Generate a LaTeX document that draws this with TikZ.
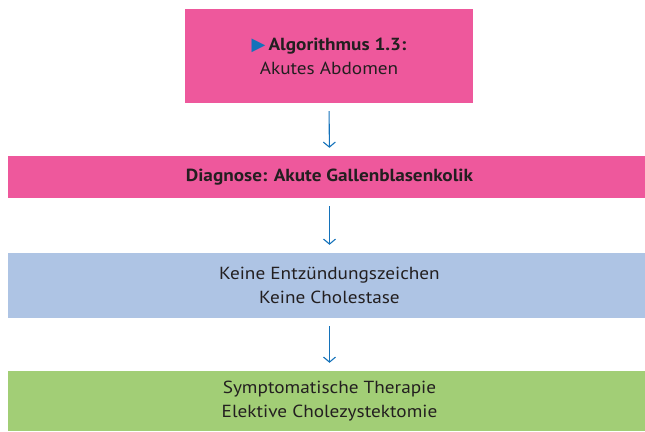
\documentclass[tikz,border=0pt]{standalone}
\usepackage{fontspec}
\setmainfont[FakeStretch=1.1]{PT Sans}
\newfontfamily\symfont{DejaVu Sans}
\usetikzlibrary{arrows.meta}
\definecolor{pinkbox}{RGB}{238,88,156}
\definecolor{bluebox}{RGB}{174,196,228}
\definecolor{greenbox}{RGB}{162,206,118}
\definecolor{arrowblue}{RGB}{20,114,186}
\definecolor{textdark}{RGB}{35,31,32}
\begin{document}
\begin{tikzpicture}[x=1pt,y=-1pt,
  box/.style={rectangle, inner sep=0pt, align=center, text=textdark,
    font=\fontsize{17.5}{24}\selectfont},
  flow/.style={draw=arrowblue, line width=1.1pt,
    -{Straight Barb[length=5pt,width=12pt]}, shorten <=8pt, shorten >=8pt}]
\useasboundingbox (0,0) rectangle (645,431);
\node[box, fill=pinkbox, minimum width=288pt, minimum height=94pt] (alg) at (329,56)
  {{\color{arrowblue}\symfont\fontsize{18}{18}\selectfont ▶}\hspace{3pt}\textbf{Algorithmus 1.3:}\\Akutes Abdomen};
\node[box, fill=pinkbox, minimum width=643pt, minimum height=42pt] (diag) at (329.5,177)
  {\textbf{Diagnose: Akute Gallenblasenkolik}};
\node[box, fill=bluebox, minimum width=643pt, minimum height=65pt] (keine) at (329.5,285.5)
  {Keine Entzündungszeichen\\Keine Cholestase};
\node[box, fill=greenbox, minimum width=643pt, minimum height=60pt] (ther) at (329.5,401)
  {Symptomatische Therapie\\Elektive Cholezystektomie};
\draw[flow] (alg.south) -- (diag.north);
\draw[flow] (diag.south) -- (keine.north);
\draw[flow] (keine.south) -- (ther.north);
\end{tikzpicture}
\end{document}
